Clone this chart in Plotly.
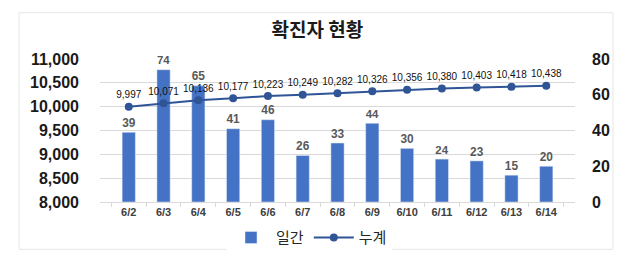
import plotly.graph_objects as go

dates = ["6/2", "6/3", "6/4", "6/5", "6/6", "6/7", "6/8", "6/9", "6/10", "6/11", "6/12", "6/13", "6/14"]
daily = [39, 74, 65, 41, 46, 26, 33, 44, 30, 24, 23, 15, 20]
cumulative = [9997, 10071, 10136, 10177, 10223, 10249, 10282, 10326, 10356, 10380, 10403, 10418, 10438]

left_ticks = [8000, 8500, 9000, 9500, 10000, 10500, 11000]
right_ticks = [0, 20, 40, 60, 80]

FONT = "Liberation Sans, Arial, Noto Sans CJK KR"
KFONT = "Noto Sans CJK KR, Liberation Sans"

fig = go.Figure()
fig.add_trace(go.Bar(
    x=dates, y=daily, name="일간", yaxis="y",
    marker=dict(color="#4472C4"), width=0.38,
    text=[str(v) for v in daily], textposition="outside",
    textfont=dict(family=FONT, size=15, color="#595959", weight="bold"),
    cliponaxis=False,
))
fig.add_trace(go.Scatter(
    x=dates, y=cumulative, name="누계", yaxis="y2",
    mode="lines+markers+text",
    line=dict(color="#2F5597", width=2),
    marker=dict(color="#2F5597", size=8),
    text=[f"{v:,}" for v in cumulative], textposition="top center",
    textfont=dict(family=FONT, size=10, color="#111111"),
    cliponaxis=False,
))

fig.update_layout(
    width=640, height=266,
    margin=dict(l=100, r=65, t=59, b=62),
    paper_bgcolor="white", plot_bgcolor="white",
    title=dict(text="<b>확진자 현황</b>", x=0.496, xanchor="center", y=1 - 30 / 266, yanchor="middle",
               font=dict(family=KFONT, size=19, color="#1a1a1a")),
    showlegend=True,
    legend=dict(orientation="h", x=0.44, xanchor="center", y=-0.25, yanchor="middle",
                font=dict(family=KFONT, size=15, color="#262626"),
                itemwidth=40, traceorder="normal"),
    bargap=0.6,
    xaxis=dict(
        type="category",
        tickfont=dict(family=FONT, size=11, color="#404040", weight="bold"),
        showline=True, linecolor="#d9d9d9", linewidth=1,
        ticks="outside", tickson="boundaries", ticklen=4, tickcolor="#d9d9d9",
        showgrid=False,
    ),
    yaxis=dict(
        side="right", range=[0, 80], tickvals=right_ticks,
        tickfont=dict(family=FONT, size=16, color="#1a1a1a", weight="bold"),
        showgrid=False, zeroline=False, ticklabelstandoff=16,
    ),
    yaxis2=dict(
        side="left", overlaying="y", range=[8000, 11000], tickvals=left_ticks,
        tickformat=",",
        tickfont=dict(family=FONT, size=16, color="#1a1a1a", weight="bold"),
        showgrid=True, gridcolor="#d9d9d9", gridwidth=1, zeroline=False,
        ticklabelstandoff=20,
    ),
    shapes=[dict(type="rect", xref="paper", yref="paper",
                 x0=(19 - 100) / 475, x1=(613 - 100) / 475,
                 y0=(204 - 252) / 145, y1=(204 - 12) / 145,
                 line=dict(color="#e6e6e6", width=1), fillcolor="rgba(0,0,0,0)", layer="below")],
)

fig.write_html("out.html")
